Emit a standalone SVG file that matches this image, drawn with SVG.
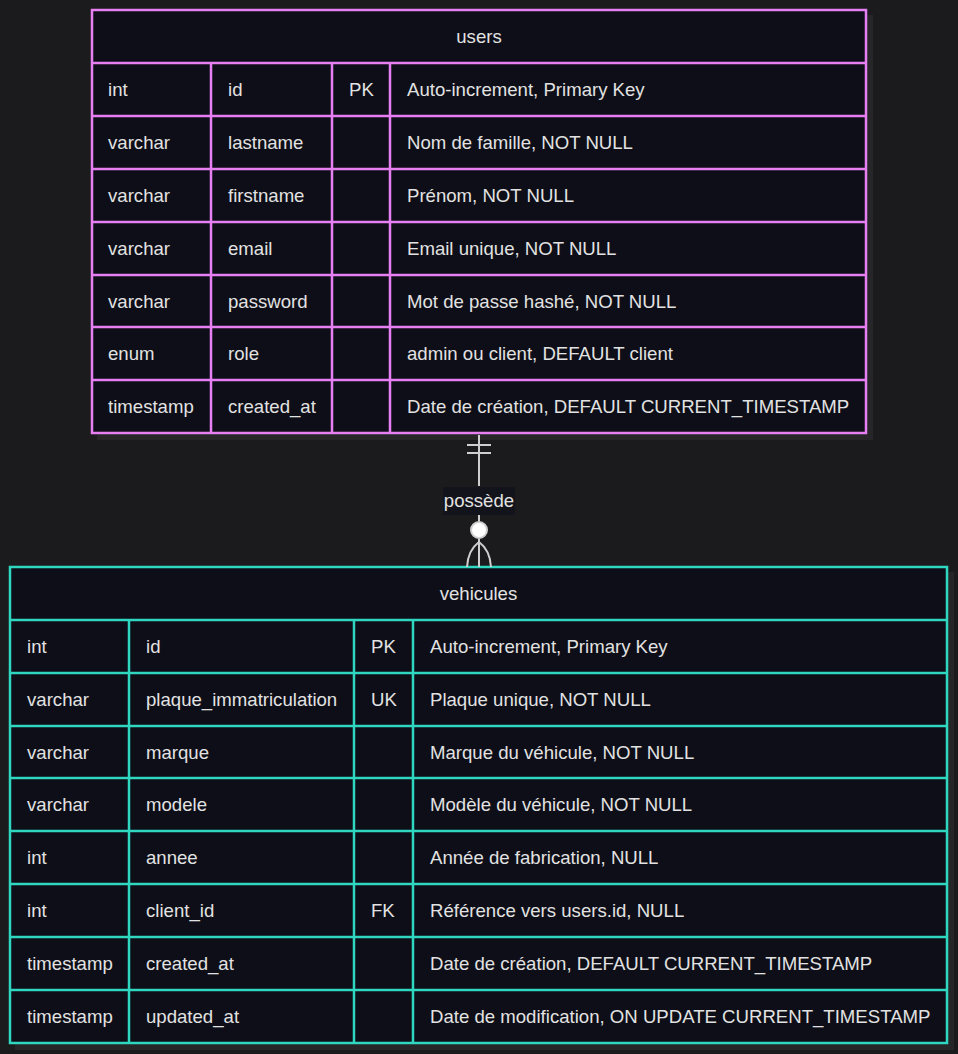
<svg xmlns="http://www.w3.org/2000/svg" width="958" height="1054" viewBox="0 0 958 1054">
<style>
text{font-family:"Liberation Sans",Arial,sans-serif;font-size:18.6px;fill:#e2e2e2}
.c{text-anchor:middle}
.box{fill:#0d0e17}
.shadow{fill:#262628}
.pink{stroke:#e67ff2;stroke-width:2.5;fill:none}
.teal{stroke:#2fd6c0;stroke-width:2.5;fill:none}
.conn{stroke:#cfcfcf;stroke-width:2;fill:none}
</style>
<rect width="958" height="1054" fill="#1b1b1d"/>
<g id="users">
<rect class="shadow" x="97" y="15" width="776" height="425"/>
<rect class="box" x="92" y="10" width="774" height="423"/>
<path class="pink" d="M92,10H866V433H92Z M92,63H866 M92,116H866 M92,169H866 M92,222H866 M92,275H866 M92,327H866 M92,380H866 M211,63V433 M332,63V433 M390,63V433"/>
<text class="c" x="479" y="43">users</text>
<text x="108" y="96">int</text><text x="228" y="96">id</text><text x="349" y="96">PK</text><text x="407" y="96">Auto-increment, Primary Key</text>
<text x="108" y="149">varchar</text><text x="228" y="149">lastname</text><text x="407" y="149">Nom de famille, NOT NULL</text>
<text x="108" y="202">varchar</text><text x="228" y="202">firstname</text><text x="407" y="202">Prénom, NOT NULL</text>
<text x="108" y="255">varchar</text><text x="228" y="255">email</text><text x="407" y="255">Email unique, NOT NULL</text>
<text x="108" y="307.5">varchar</text><text x="228" y="307.5">password</text><text x="407" y="307.5">Mot de passe hashé, NOT NULL</text>
<text x="108" y="360">enum</text><text x="228" y="360">role</text><text x="407" y="360">admin ou client, DEFAULT client</text>
<text x="108" y="413">timestamp</text><text x="228" y="413">created_at</text><text x="407" y="413">Date de création, DEFAULT CURRENT_TIMESTAMP</text>
</g>
<g id="vehicules">
<rect class="shadow" x="15" y="572" width="939" height="478"/>
<rect class="box" x="10" y="567" width="937" height="476"/>
<path class="teal" d="M10,567H947V1043H10Z M10,620H947 M10,673H947 M10,726H947 M10,778H947 M10,831H947 M10,884H947 M10,937H947 M10,990H947 M129,620V1043 M354,620V1043 M413,620V1043"/>
<text class="c" x="478.5" y="600">vehicules</text>
<text x="27" y="653">int</text><text x="146" y="653">id</text><text x="371" y="653">PK</text><text x="430" y="653">Auto-increment, Primary Key</text>
<text x="27" y="706">varchar</text><text x="146" y="706">plaque_immatriculation</text><text x="371" y="706">UK</text><text x="430" y="706">Plaque unique, NOT NULL</text>
<text x="27" y="758.5">varchar</text><text x="146" y="758.5">marque</text><text x="430" y="758.5">Marque du véhicule, NOT NULL</text>
<text x="27" y="811">varchar</text><text x="146" y="811">modele</text><text x="430" y="811">Modèle du véhicule, NOT NULL</text>
<text x="27" y="864">int</text><text x="146" y="864">annee</text><text x="430" y="864">Année de fabrication, NULL</text>
<text x="27" y="917">int</text><text x="146" y="917">client_id</text><text x="371" y="917">FK</text><text x="430" y="917">Référence vers users.id, NULL</text>
<text x="27" y="970">timestamp</text><text x="146" y="970">created_at</text><text x="430" y="970">Date de création, DEFAULT CURRENT_TIMESTAMP</text>
<text x="27" y="1023">timestamp</text><text x="146" y="1023">updated_at</text><text x="430" y="1023">Date de modification, ON UPDATE CURRENT_TIMESTAMP</text>
</g>
<g id="connectors">
<path class="conn" d="M479,435V486 M467,445H491 M467,453H491 M479,515V521 M479,539V567 M467,567Q468,550 479,542 M491,567Q490,550 479,542"/>
<circle cx="479" cy="530" r="8" fill="#ffffff" stroke="#cfcfcf" stroke-width="2"/>
<rect x="443" y="487" width="72" height="28" fill="#13131c"/>
<text class="c" x="479" y="507">possède</text>
</g>
</svg>
